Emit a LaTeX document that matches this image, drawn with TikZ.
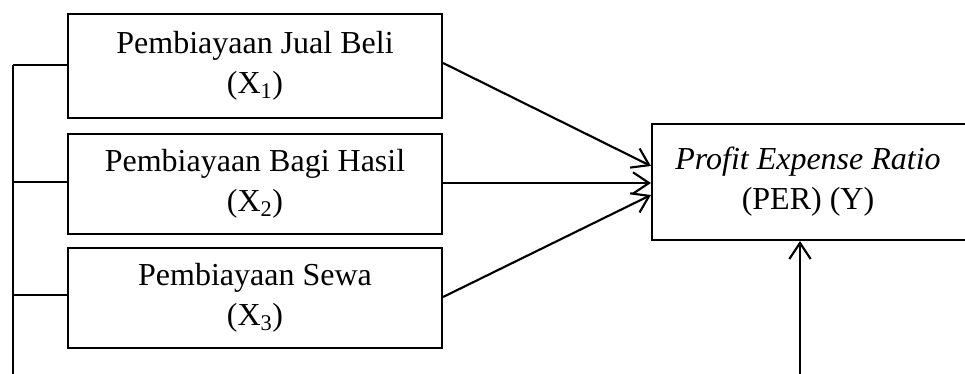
\documentclass[tikz,border=0pt]{standalone}
\usepackage{fontspec}
\setmainfont{Liberation Serif}
\usetikzlibrary{arrows.meta}
\begin{document}
\begin{tikzpicture}[x=0.75pt,y=-0.75pt,
  box/.style={draw,line width=1.6pt,minimum width=280.5pt,inner sep=0pt,align=center,
    font=\fontsize{24}{30}\selectfont},
  conn/.style={line width=1.6pt},
  arr/.style={line width=1.6pt,-{Straight Barb[length=12pt,width=16pt,line width=1.6pt]}}]
\useasboundingbox (0,0) rectangle (965,374);
\node[box,minimum height=78pt] (x1) at (255,66) {Pembiayaan Jual Beli\\(X\textsubscript{1})};
\node[box,minimum height=75pt] (x2) at (255,184) {Pembiayaan Bagi Hasil\\(X\textsubscript{2})};
\node[box,minimum height=75pt] (x3) at (255,298) {Pembiayaan Sewa\\(X\textsubscript{3})};
\node[box,minimum height=87pt] (yb) at (839,182) {};
\node[font=\fontsize{24}{30}\selectfont,align=center,inner sep=0pt] (yt) at (808,182) {\textit{Profit Expense Ratio}\\(PER) (Y)};
\coordinate (top) at (13,65);
\coordinate (bot) at (13,376);
\coordinate (b2) at (13,182);
\coordinate (b3) at (13,295);
\coordinate (ybot) at (800,376);
\draw[conn] (top) -- (bot);
\draw[conn] (top) -- (top -| x1.west);
\draw[conn] (b2) -- (b2 -| x2.west);
\draw[conn] (b3) -- (b3 -| x3.west);
\draw[arr] (x1.east |- 0,63) -- (yb.west |- 0,166);
\draw[arr] (x2.east |- 0,183) -- (yb.west |- 0,183);
\draw[arr] (x3.east |- 0,297) -- (yb.west |- 0,195);
\draw[arr] (ybot) -- (ybot |- yb.south);
\end{tikzpicture}
\end{document}
